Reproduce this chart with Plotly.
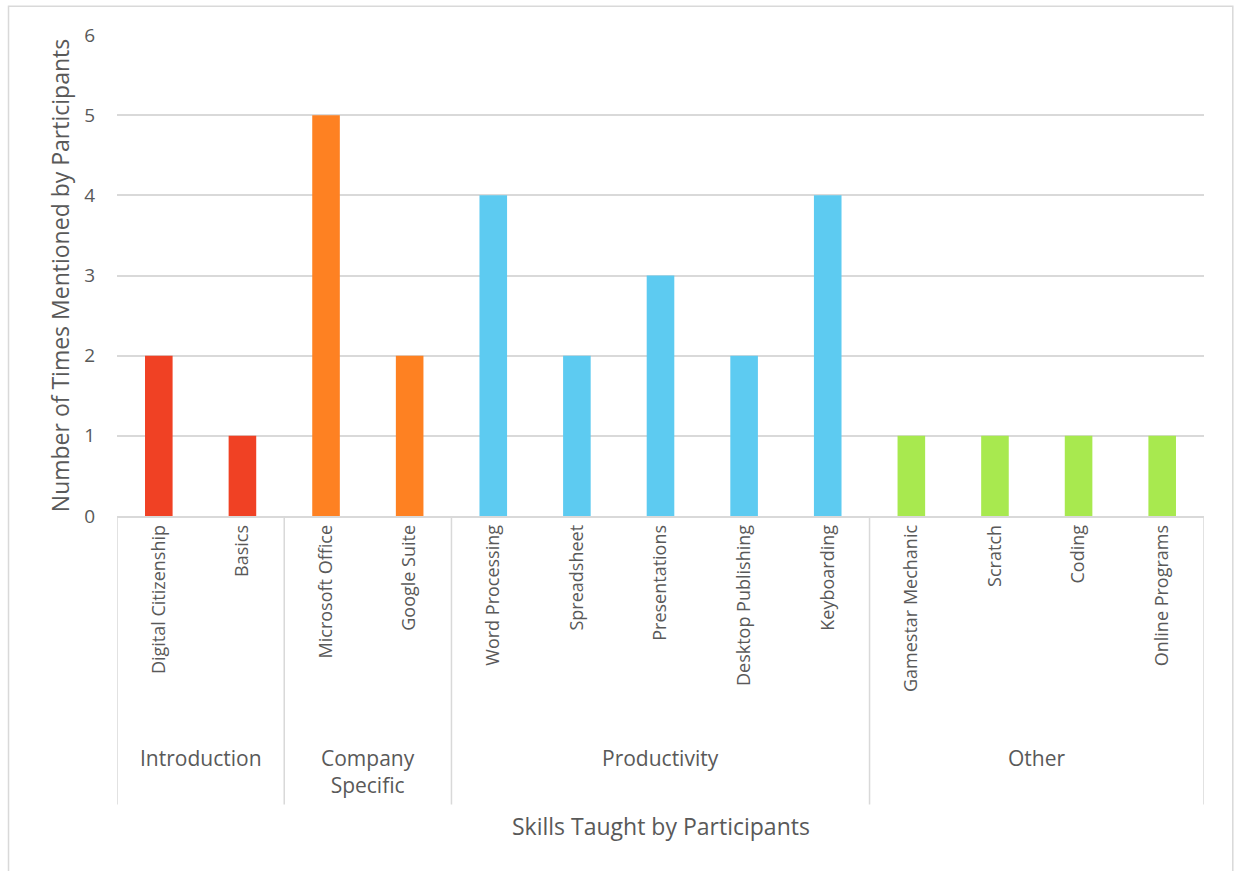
import plotly.graph_objects as go

# Skill categories, their groups and mention counts
skills = ["Digital Citizenship", "Basics", "Microsoft Office", "Google Suite",
          "Word Processing", "Spreadsheet", "Presentations", "Desktop Publishing",
          "Keyboarding", "Gamestar Mechanic", "Scratch", "Coding", "Online Programs"]
groups = ["Introduction", "Introduction", "Company<br>Specific", "Company<br>Specific",
          "Productivity", "Productivity", "Productivity", "Productivity", "Productivity",
          "Other", "Other", "Other", "Other"]
counts = [2, 1, 5, 2, 4, 2, 3, 2, 4, 1, 1, 1, 1]
group_colors = {"Introduction": "#F04124", "Company<br>Specific": "#FE8122",
                "Productivity": "#5DCBF1", "Other": "#A8E94F"}

FONT = "Open Sans"
TEXT = "#595959"
GRID = "#D9D9D9"

x = list(range(len(skills)))
fig = go.Figure(go.Bar(
    x=x, y=counts, width=0.33,
    marker=dict(color=[group_colors[g] for g in groups], line_width=0),
))

# Group spans: boundaries and label positions
spans = []
start = 0
for i in range(1, len(groups) + 1):
    if i == len(groups) or groups[i] != groups[start]:
        spans.append((groups[start], start, i - 1))
        start = i

shapes = []
annotations = []
for name, a, b in spans:
    annotations.append(dict(x=(a + b) / 2, y=-0.47, xref="x", yref="paper",
                            text=name, showarrow=False, yanchor="top",
                            font=dict(family=FONT, size=21, color=TEXT)))
bounds = sorted({a - 0.5 for _, a, _ in spans} | {b + 0.5 for _, _, b in spans})
for bx in bounds:
    shapes.append(dict(type="line", xref="x", yref="paper", x0=bx, x1=bx,
                       y0=0, y1=-0.60, line=dict(color=GRID, width=1.5)))

# Outer chart frame
shapes.append(dict(type="rect", xref="paper", yref="paper",
                   x0=-0.0998, x1=1.0265, y0=1.060, y1=-0.75,
                   line=dict(color=GRID, width=1.5)))

annotations.append(dict(x=0.5, y=-0.607, xref="paper", yref="paper",
                        text="Skills Taught by Participants", showarrow=False,
                        yanchor="top", font=dict(family=FONT, size=23, color=TEXT)))

fig.update_layout(
    width=1235, height=871,
    margin=dict(l=117, r=31, t=35, b=355),
    paper_bgcolor="white", plot_bgcolor="white",
    showlegend=False,
    shapes=shapes,
    annotations=annotations,
    xaxis=dict(
        range=[-0.5, len(skills) - 0.5],
        tickmode="array", tickvals=x, ticktext=skills, tickangle=-90,
        tickfont=dict(family=FONT, size=18, color=TEXT),
        showgrid=False, zeroline=False, showline=True,
        linecolor=GRID, linewidth=1.5, ticks="", ticklen=0,
    ),
    yaxis=dict(
        range=[0, 6], dtick=1,
        tickfont=dict(family=FONT, size=19, color=TEXT),
        showgrid=True, gridcolor=GRID, gridwidth=1.5,
        zeroline=False, showline=False, ticks="", ticklabelstandoff=21,
        title=dict(text="Number of Times Mentioned by Participants",
                   font=dict(family=FONT, size=23, color=TEXT), standoff=8),
    ),
)

fig.write_html("out.html")
